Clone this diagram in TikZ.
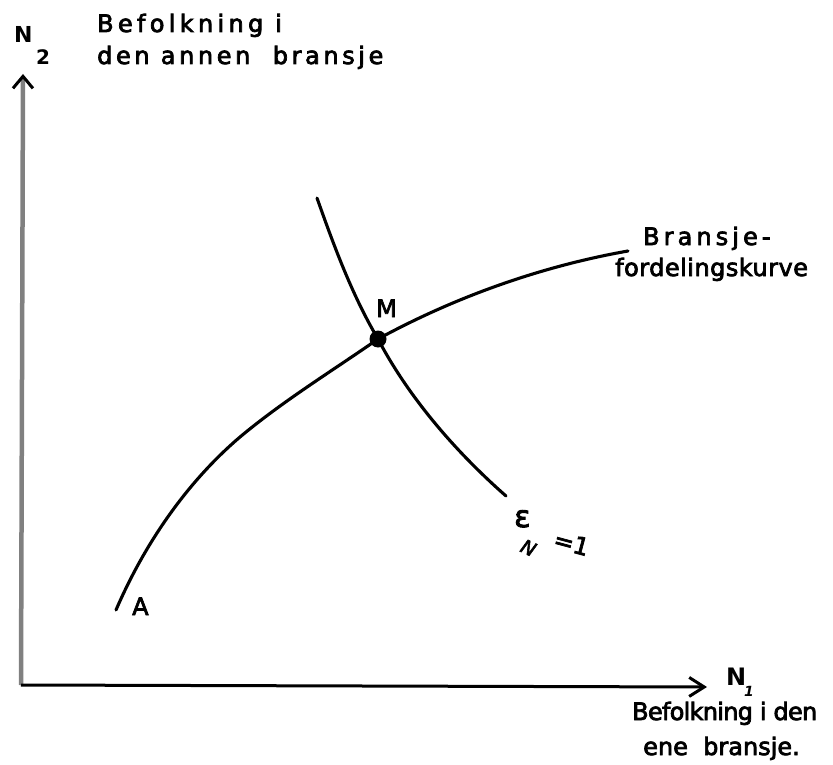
\documentclass[tikz,border=0pt]{standalone}
\usepackage{fontspec}
\setmainfont{DejaVu Sans}
\newfontfamily\hand[FakeBold=3]{DejaVu Sans}
\usetikzlibrary{arrows.meta}
\newcommand{\lsp}[1]{\addfontfeatures{LetterSpace=#1}}
\begin{document}
\begin{tikzpicture}[x=1pt,y=-1pt,
  lbl/.style={inner sep=0pt,font=\hand\fontsize{24}{28}\selectfont},
  big/.style={inner sep=0pt,font=\bfseries\fontsize{22}{26}\selectfont},
  curve/.style={line width=3.1pt,line cap=round,line join=round},
  axis/.style={line width=3pt}]
\useasboundingbox (0,0) rectangle (833,765);
% axes
\coordinate (O) at (21,685);
\coordinate (Ytop) at (23,74);
\coordinate (Xend) at (707,687);
\draw[axis,black!50,line width=4.5pt,-{Straight Barb[color=black,length=12pt,width=20pt,line width=3pt]}] (O) -- (Ytop);
\draw[axis,-{Straight Barb[length=15pt,width=19pt,line width=3pt]}] (O) -- (Xend);
% point M
\node[circle,fill,inner sep=0pt,minimum size=17pt] (M) at (378,339) {};
\coordinate (A0) at (116,610);
\coordinate (Q) at (240,437);
\coordinate (Bend) at (628,251);
\coordinate (E0) at (317,198);
\coordinate (E1) at (506,496);
% Bransjefordelingskurve
\draw[curve] (A0) .. controls (144,545) and (186,483) .. (Q)
  .. controls (283,401) and (332,371) .. (M.center)
  .. controls (457,296) and (543,266) .. (Bend);
% epsilon curve
\draw[curve] (E0) .. controls (334,246) and (352,295) .. (M.center)
  .. controls (409,398) and (456,452) .. (E1);
% labels
\node[big,anchor=base west] (N2) at (14,43) {N};
\node[big,anchor=base west,font=\bfseries\fontsize{20}{24}\selectfont] (N2s) at (36,65) {2};
\node[lbl,anchor=base west] (yl1) at (97,32) {\lsp{18}Befolkning i};
\node[lbl,anchor=base west] (yl2) at (97,64) {\lsp{15}den annen\ \ bransje};
\node[lbl,anchor=base west] (br1) at (643,245) {\lsp{17}Bransje-};
\node[lbl,anchor=base west] (br2) at (615,276) {\lsp{2}fordelingskurve};
\node[lbl,anchor=base west] (Mlbl) at (376,317) {M};
\node[lbl,anchor=base west] (Albl) at (132,615) {A};
\node[lbl,anchor=base west,font=\hand\fontsize{30}{32}\selectfont] (eps) at (514,527) {ε};
\node[lbl,anchor=base west,rotate=-25,font=\hand\itshape\fontsize{19}{20}\selectfont] (epsN) at (519,551) {N};
\node[lbl,anchor=base west,rotate=-15,font=\hand\fontsize{24}{26}\selectfont] (epsv) at (552,547) {=1};
\node[big,anchor=base west,font=\bfseries\fontsize{24}{28}\selectfont] (N1) at (726,685) {N};
\node[big,anchor=base west,font=\itshape\bfseries\fontsize{14}{16}\selectfont] (N1s) at (744,696) {1};
\node[lbl,anchor=base west] (xl1) at (632,720) {\lsp{-3}Befolkning i den};
\node[lbl,anchor=base west] (xl2) at (643,755) {ene\ \ bransje.};
\end{tikzpicture}
\end{document}
